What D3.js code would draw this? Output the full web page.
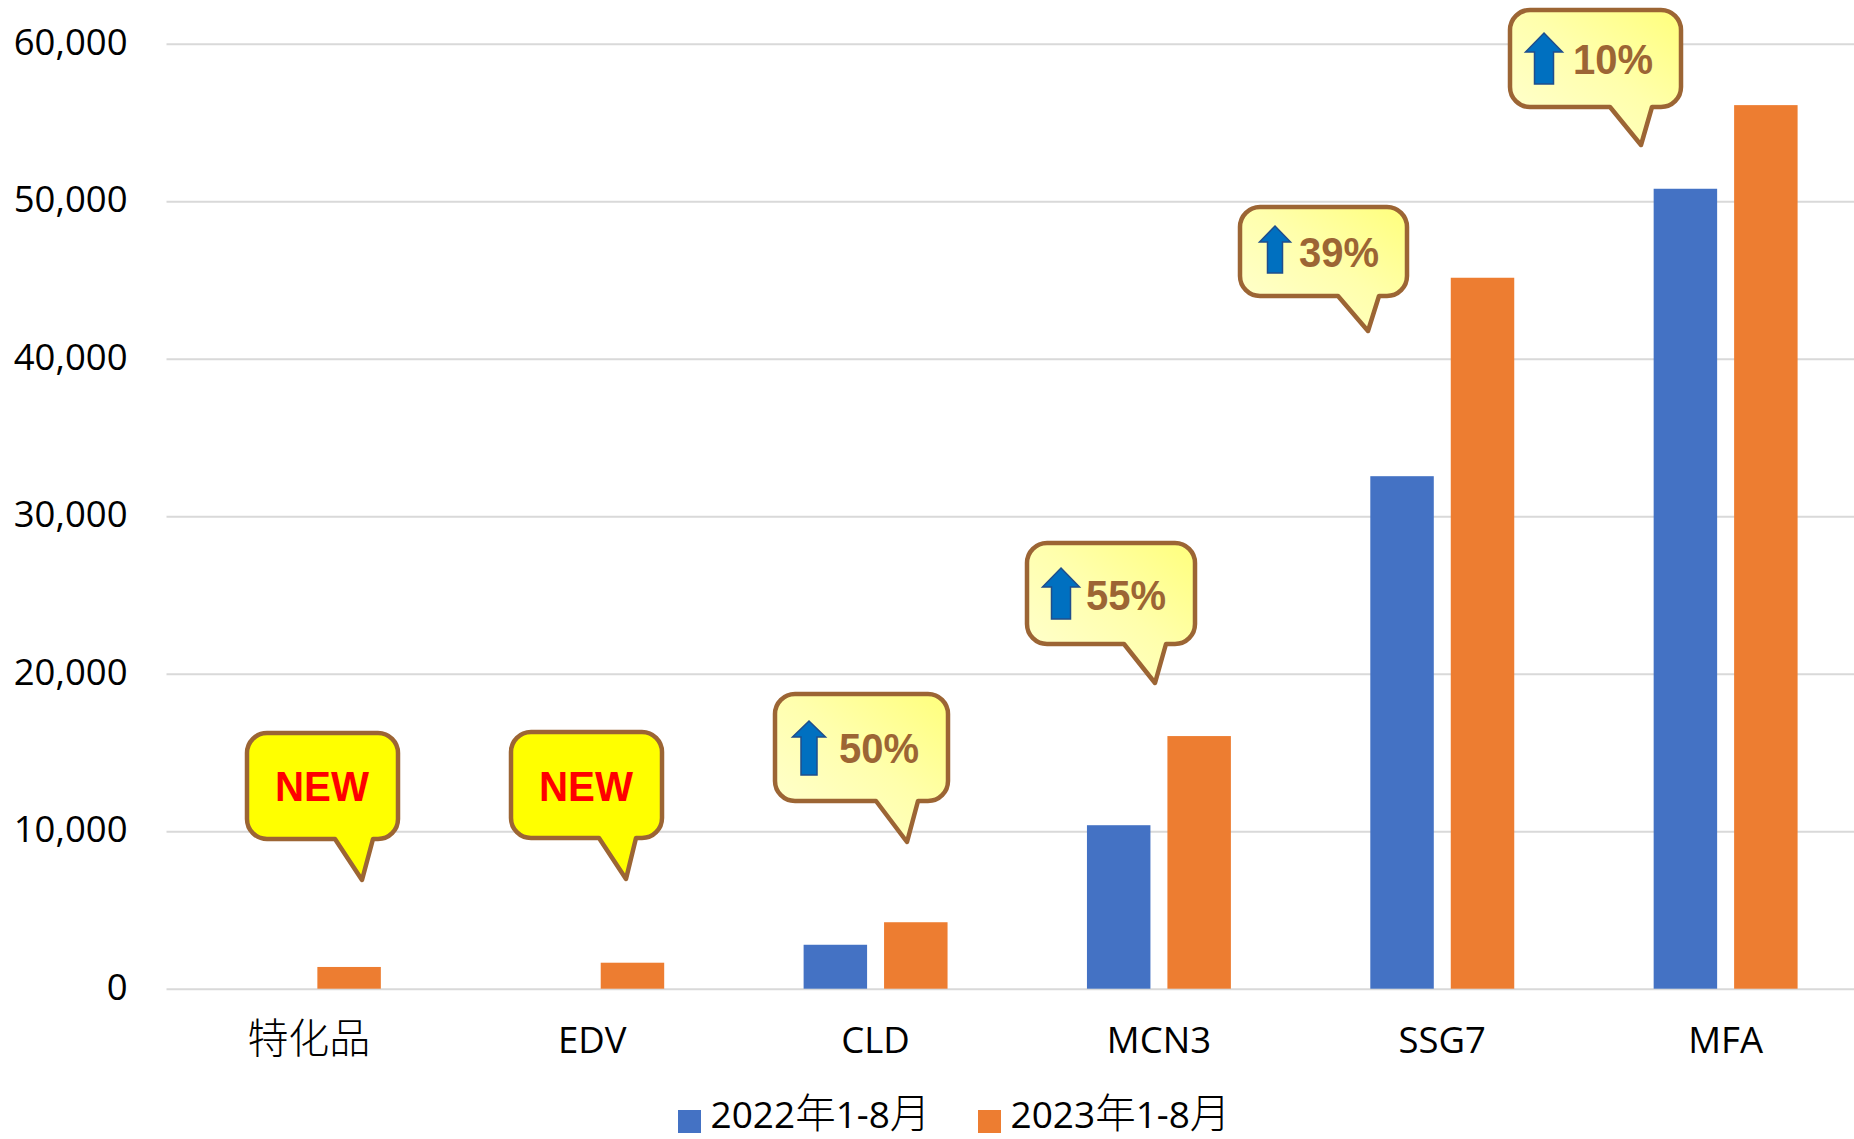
<!DOCTYPE html>
<html>
<head>
<meta charset="utf-8">
<script src="https://cdn.jsdelivr.net/npm/d3@7"></script>
<style>
html, body { margin: 0; padding: 0; background: #fff; }
svg { display: block; }
text { font-family: 'Open Sans', 'Noto Sans CJK SC', sans-serif; fill: #000; }
.cjk { font-family: 'Noto Sans CJK SC', sans-serif; font-weight: 300; }
.callout-text { font-family: 'Liberation Sans', sans-serif; font-weight: bold; font-size: 42px; }
</style>
</head>
<body>
<svg width="1854" height="1139"></svg>
<script>
var categories = ['特化品', 'EDV', 'CLD', 'MCN3', 'SSG7', 'MFA'];
var seriesNames = ['2022年1-8月', '2023年1-8月'];
var values2022 = [null, null, 2790, 10380, 32540, 50790];
var values2023 = [1380, 1650, 4220, 16040, 45140, 56100];
var yTicks = [0, 10000, 20000, 30000, 40000, 50000, 60000];
var calloutLabels = ['NEW', 'NEW', '50%', '55%', '39%', '10%'];

var seriesColors = ['#4472C4', '#ED7D31'];

var svg = d3.select('svg');

// Plot area, the last band runs past the right edge of the page like the original
var plot = {l: 166.5, r: 1866.6, t: 43.7, b: 988.7};

var xScale = d3.scaleBand()
    .domain(categories)
    .range([plot.l + 0.7, plot.r + 0.7])
    .paddingInner(0.492)
    .paddingOuter(0.246);

var seriesScale = d3.scaleBand()
    .domain(d3.range(seriesNames.length))
    .range([0, xScale.bandwidth()])
    .paddingInner(0.211);

var yScale = d3.scaleLinear()
    .domain([0, 60000])
    .range([plot.b, plot.t]);

// Put the Chinese characters in their own tspans, they are a size up in the original
function fillMixedText(selection, latinSize, cjkSize) {
    selection.each(function() {
        var el = d3.select(this);
        var label = el.text();
        el.text(null).attr('font-size', latinSize);
        label.match(/[\u4e00-\u9fff]+|[^\u4e00-\u9fff]+/g).forEach(function(part) {
            var isCjk = /[\u4e00-\u9fff]/.test(part);
            el.append('tspan')
                .attr('class', isCjk ? 'cjk' : null)
                .attr('font-size', isCjk ? cjkSize : latinSize)
                .text(part);
        });
    });
}

// Gridlines and value labels
var yAxis = d3.axisLeft(yScale)
    .tickValues(yTicks)
    .tickFormat(d3.format(','))
    .tickSize(plot.l - plot.r)
    .tickPadding(39);

var yAxisG = svg.append('g')
    .attr('transform', 'translate(' + plot.l + ',0)')
    .call(yAxis);
yAxisG.select('.domain').remove();
yAxisG.selectAll('line')
    .attr('stroke', '#D9D9D9')
    .attr('stroke-width', 2);
yAxisG.selectAll('text')
    .attr('font-size', 36.5)
    .attr('dy', '0.295em');

// Category labels
var xAxis = d3.axisBottom(xScale).tickSize(0).tickPadding(38);
var xAxisG = svg.append('g')
    .attr('transform', 'translate(0,' + plot.b + ')')
    .call(xAxis);
xAxisG.select('.domain').remove();
xAxisG.selectAll('text')
    .attr('dy', '0.71em')
    .call(fillMixedText, 36.5, 41);

// Bars
[values2022, values2023].forEach(function(values, s) {
    svg.append('g')
        .selectAll('rect')
        .data(values.map(function(v, i) { return {cat: categories[i], value: v}; })
            .filter(function(d) { return d.value !== null; }))
        .enter().append('rect')
        .attr('x', function(d) { return xScale(d.cat) + seriesScale(s); })
        .attr('y', function(d) { return yScale(d.value); })
        .attr('width', seriesScale.bandwidth())
        .attr('height', function(d) { return plot.b - yScale(d.value); })
        .attr('fill', seriesColors[s]);
});

// Legend
var legendX = [678, 978];
var legend = svg.append('g').selectAll('g')
    .data(seriesNames)
    .enter().append('g')
    .attr('transform', function(d, i) { return 'translate(' + legendX[i] + ',1110)'; });
legend.append('rect')
    .attr('width', 23)
    .attr('height', 23)
    .attr('fill', function(d, i) { return seriesColors[i]; });
legend.append('text')
    .attr('x', 32.5)
    .attr('y', 18)
    .text(function(d) { return d; })
    .call(fillMixedText, 37, 40.5);

// Speech bubbles: box, tail and contents are placed by hand, in page pixels
var calloutBoxes = [
    {x0: 247, x1: 398, y0: 733, y1: 839, tailL: 335, tailR: 373, tipX: 362, tipY: 880, textX: 275, textY: 801, textW: 94},
    {x0: 511, x1: 662, y0: 732, y1: 838, tailL: 599, tailR: 636, tipX: 626, tipY: 879, textX: 539, textY: 801, textW: 94},
    {x0: 775, x1: 948, y0: 694, y1: 801, tailL: 876, tailR: 918, tipX: 907, tipY: 842, textX: 839, textY: 763, textW: 80,
        arrow: {x: 809, top: 721, neck: 737, bottom: 775, head: 33, shaft: 16}},
    {x0: 1027, x1: 1195, y0: 543, y1: 644, tailL: 1124, tailR: 1166, tipX: 1155, tipY: 683, textX: 1086, textY: 610, textW: 80,
        arrow: {x: 1061, top: 568, neck: 587, bottom: 619, head: 37, shaft: 19}},
    {x0: 1240, x1: 1407, y0: 207, y1: 296, tailL: 1338, tailR: 1379, tipX: 1368, tipY: 331, textX: 1299, textY: 267, textW: 80,
        arrow: {x: 1275, top: 226, neck: 242, bottom: 273, head: 31, shaft: 15}},
    {x0: 1510, x1: 1681, y0: 10, y1: 107, tailL: 1610, tailR: 1652, tipX: 1641, tipY: 145, textX: 1573, textY: 74, textW: 80,
        arrow: {x: 1544, top: 33, neck: 52, bottom: 84, head: 37, shaft: 19}}
];

var gradient = svg.append('defs').append('linearGradient')
    .attr('id', 'paleYellow')
    .attr('x1', 1).attr('y1', 0)
    .attr('x2', 0).attr('y2', 1);
gradient.append('stop').attr('offset', 0).attr('stop-color', '#FFFF7C');
gradient.append('stop').attr('offset', 0.45).attr('stop-color', '#FFFFAC');
gradient.append('stop').attr('offset', 1).attr('stop-color', '#FFFFD4');

function bubblePath(b) {
    var r = 20;
    var p = d3.path();
    p.moveTo(b.x0 + r, b.y0);
    p.lineTo(b.x1 - r, b.y0);
    p.arcTo(b.x1, b.y0, b.x1, b.y0 + r, r);
    p.lineTo(b.x1, b.y1 - r);
    p.arcTo(b.x1, b.y1, b.x1 - r, b.y1, r);
    p.lineTo(b.tailR, b.y1);
    p.lineTo(b.tipX, b.tipY);
    p.lineTo(b.tailL, b.y1);
    p.lineTo(b.x0 + r, b.y1);
    p.arcTo(b.x0, b.y1, b.x0, b.y1 - r, r);
    p.lineTo(b.x0, b.y0 + r);
    p.arcTo(b.x0, b.y0, b.x0 + r, b.y0, r);
    p.closePath();
    return p.toString();
}

function arrowPath(a) {
    return d3.line()([
        [a.x, a.top],
        [a.x + a.head / 2, a.neck],
        [a.x + a.shaft / 2, a.neck],
        [a.x + a.shaft / 2, a.bottom],
        [a.x - a.shaft / 2, a.bottom],
        [a.x - a.shaft / 2, a.neck],
        [a.x - a.head / 2, a.neck]
    ]) + 'Z';
}

var callouts = svg.append('g').selectAll('g')
    .data(calloutBoxes)
    .enter().append('g');

callouts.append('path')
    .attr('d', bubblePath)
    .attr('fill', function(d, i) { return calloutLabels[i] === 'NEW' ? '#FFFF00' : 'url(#paleYellow)'; })
    .attr('stroke', '#9C6534')
    .attr('stroke-width', 4.5)
    .attr('stroke-linejoin', 'round');

callouts.filter(function(d) { return d.arrow; })
    .append('path')
    .attr('d', function(d) { return arrowPath(d.arrow); })
    .attr('fill', '#0070C0')
    .attr('stroke', '#1F4E8C')
    .attr('stroke-width', 1.5);

callouts.append('text')
    .attr('class', 'callout-text')
    .attr('x', function(d) { return d.textX; })
    .attr('y', function(d) { return d.textY; })
    .attr('textLength', function(d) { return d.textW; })
    .attr('lengthAdjust', 'spacingAndGlyphs')
    .style('fill', function(d, i) { return calloutLabels[i] === 'NEW' ? '#FF0000' : '#9C6534'; })
    .text(function(d, i) { return calloutLabels[i]; });
</script>
</body>
</html>
